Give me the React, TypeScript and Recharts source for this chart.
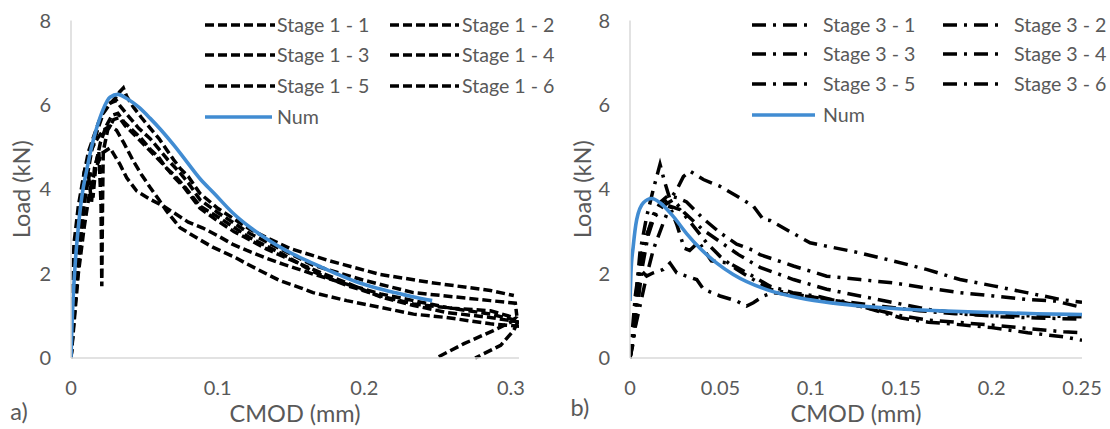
import React from 'react';
import { LineChart, Line, XAxis, YAxis, Legend } from 'recharts';

type Pt = [number, number];

const stage1Names = ['Stage 1 - 1', 'Stage 1 - 2', 'Stage 1 - 3', 'Stage 1 - 4', 'Stage 1 - 5', 'Stage 1 - 6'];
const stage3Names = ['Stage 3 - 1', 'Stage 3 - 2', 'Stage 3 - 3', 'Stage 3 - 4', 'Stage 3 - 5', 'Stage 3 - 6'];
const numName = 'Num';
const xTitle = 'CMOD (mm)';
const yTitle = 'Load (kN)';

const xTicksA = [0, 0.1, 0.2, 0.3];
const xTicksB = [0, 0.05, 0.1, 0.15, 0.2, 0.25];
const yTicks = [0, 2, 4, 6, 8];

// ---- panel a) Stage 1 ----
const stage1_1: Pt[] = [[0,0],[0.002,0.9],[0.005,2.2],[0.008,3.4],[0.011,4.3],[0.014,4.9],[0.018,5.4],[0.022,5.8],[0.026,6.0],[0.03,6.15],[0.033,6.3],[0.0357,6.4],[0.038,6.2],[0.0425,5.95],[0.048,5.7],[0.054,5.45],[0.06,5.2],[0.065,4.95],[0.07,4.7],[0.0743,4.5],[0.08,4.3],[0.088,3.9],[0.1,3.55],[0.111,3.3],[0.122,3.05],[0.1335,2.85],[0.149,2.6],[0.1767,2.3],[0.211,1.98],[0.245,1.79],[0.286,1.6],[0.302,1.48]];
const stage1_2: Pt[] = [[0,0],[0.001,1.2],[0.003,2.5],[0.006,3.6],[0.009,4.4],[0.012,4.9],[0.015,5.2],[0.019,5.6],[0.023,5.9],[0.027,6.05],[0.031,6.1],[0.034,5.95],[0.04,5.7],[0.046,5.45],[0.054,5.2],[0.06,4.95],[0.066,4.7],[0.07,4.55],[0.074,4.4],[0.08,4.15],[0.088,3.75],[0.1,3.45],[0.111,3.2],[0.122,2.95],[0.1335,2.75],[0.145,2.55],[0.165,2.2],[0.199,1.85],[0.2335,1.55],[0.286,1.36],[0.303,1.3],[0.304,1.0]];
const stage1_3: Pt[] = [[0,0],[0.002,1.0],[0.004,2.0],[0.007,3.0],[0.01,3.9],[0.013,4.4],[0.015,3.8],[0.017,4.6],[0.02,5.1],[0.024,5.5],[0.028,5.75],[0.032,5.8],[0.036,5.6],[0.042,5.4],[0.048,5.2],[0.054,4.95],[0.06,4.75],[0.065,4.5],[0.07,4.35],[0.0766,4.1],[0.088,3.6],[0.1,3.35],[0.111,3.1],[0.122,2.85],[0.1335,2.65],[0.145,2.45],[0.165,2.05],[0.188,1.72],[0.21,1.48],[0.2335,1.28],[0.26,1.18],[0.286,1.12],[0.303,0.95],[0.3,0.85],[0.288,0.65],[0.268,0.34],[0.249,0]];
const stage1_4: Pt[] = [[0,0],[0.002,0.8],[0.005,2.0],[0.009,3.1],[0.013,4.0],[0.017,4.5],[0.021,4.85],[0.0266,4.98],[0.0334,4.59],[0.038,4.27],[0.0448,3.96],[0.054,3.76],[0.063,3.6],[0.072,3.4],[0.08,3.22],[0.09,3.08],[0.1,2.9],[0.11,2.7],[0.12,2.55],[0.1335,2.36],[0.145,2.22],[0.165,1.99],[0.188,1.75],[0.211,1.52],[0.2335,1.36],[0.256,1.2],[0.286,1.04],[0.305,0.88],[0.302,0.66],[0.293,0.3],[0.2756,0]];
const stage1_5: Pt[] = [[0,0],[0.001,0.5],[0.003,1.6],[0.006,2.9],[0.009,3.8],[0.012,4.3],[0.014,3.7],[0.016,4.5],[0.019,4.9],[0.0205,3.6],[0.021,1.7],[0.0215,3.6],[0.022,4.9],[0.025,5.4],[0.029,5.65],[0.033,5.7],[0.037,5.5],[0.043,5.3],[0.05,5.05],[0.057,4.8],[0.064,4.55],[0.07,4.3],[0.077,4.05],[0.088,3.55],[0.1,3.25],[0.111,3.0],[0.122,2.8],[0.1335,2.58],[0.145,2.4],[0.165,2.1],[0.188,1.78],[0.211,1.45],[0.233,1.25],[0.256,1.08],[0.286,0.96],[0.306,0.85]];
const stage1_6: Pt[] = [[0,0],[0.001,1.5],[0.002,2.7],[0.005,3.6],[0.009,4.4],[0.013,4.9],[0.018,5.2],[0.022,5.4],[0.0266,5.5],[0.031,5.4],[0.036,5.1],[0.0425,4.67],[0.048,4.35],[0.054,4.04],[0.06,3.75],[0.065,3.49],[0.0743,3.09],[0.088,2.8],[0.097,2.62],[0.111,2.4],[0.12,2.23],[0.1335,1.99],[0.1426,1.83],[0.156,1.67],[0.165,1.55],[0.188,1.36],[0.211,1.2],[0.2335,1.04],[0.256,0.96],[0.286,0.81],[0.306,0.75]];
const numA: Pt[] = [[0,0],[0.0005,0.6],[0.0016,1.5],[0.003,2.3],[0.005,3.1],[0.0075,3.85],[0.0107,4.45],[0.014,5.0],[0.0175,5.45],[0.022,5.9],[0.0266,6.18],[0.032,6.25],[0.038,6.15],[0.046,5.95],[0.054,5.68],[0.062,5.38],[0.07,5.05],[0.079,4.65],[0.088,4.25],[0.0977,3.9],[0.11,3.45],[0.122,3.1],[0.1335,2.82],[0.1465,2.55],[0.16,2.32],[0.171,2.15],[0.183,1.97],[0.195,1.8],[0.207,1.67],[0.2196,1.56],[0.233,1.45],[0.2463,1.36]];

// ---- panel b) Stage 3 ----
const stage3_1: Pt[] = [[0,0],[0.001,0.3],[0.003,1.3],[0.0055,2.5],[0.0092,3.35],[0.0129,4.0],[0.0166,4.59],[0.019,4.2],[0.0221,3.76],[0.026,4.0],[0.0295,4.3],[0.0332,4.43],[0.0406,4.23],[0.0498,4.07],[0.059,3.84],[0.0682,3.6],[0.0738,3.28],[0.0775,3.26],[0.0996,2.73],[0.1272,2.49],[0.1456,2.3],[0.164,2.1],[0.1825,1.86],[0.2009,1.71],[0.2194,1.55],[0.2378,1.39],[0.25,1.32]];
const stage3_2: Pt[] = [[0,0],[0.002,0.6],[0.004,1.6],[0.007,2.5],[0.01,3.0],[0.013,3.4],[0.017,3.7],[0.021,3.85],[0.026,3.8],[0.0313,3.7],[0.0406,3.3],[0.0498,2.97],[0.059,2.7],[0.0682,2.55],[0.0719,2.45],[0.0904,2.18],[0.1088,1.94],[0.1272,1.86],[0.1456,1.78],[0.164,1.66],[0.1825,1.55],[0.2009,1.47],[0.2194,1.39],[0.235,1.35],[0.25,1.2]];
const stage3_3: Pt[] = [[0,0],[0.001,0.5],[0.003,1.5],[0.006,2.4],[0.009,2.9],[0.013,3.3],[0.018,3.6],[0.024,3.75],[0.03,3.45],[0.04,3.05],[0.05,2.75],[0.06,2.45],[0.0719,2.15],[0.0904,1.86],[0.1088,1.63],[0.1272,1.47],[0.145,1.32],[0.165,1.15],[0.185,1.05],[0.205,0.98],[0.225,0.95],[0.25,0.92]];
const stage3_4: Pt[] = [[0,0],[0.002,0.4],[0.004,1.2],[0.007,2.2],[0.01,2.9],[0.013,3.3],[0.016,3.6],[0.019,3.75],[0.022,3.6],[0.026,3.15],[0.03,2.6],[0.033,2.55],[0.038,2.75],[0.045,2.3],[0.055,2.25],[0.068,1.94],[0.0775,1.7],[0.09,1.55],[0.105,1.45],[0.12,1.3],[0.135,1.15],[0.15,1.0],[0.165,0.9],[0.18,0.85],[0.2,0.78],[0.22,0.7],[0.24,0.62],[0.25,0.6]];
const stage3_5: Pt[] = [[0,0],[0.0009,0.21],[0.0028,1.0],[0.0046,1.47],[0.0055,2.1],[0.0092,1.94],[0.0129,2.02],[0.0184,2.1],[0.0221,2.25],[0.0258,2.02],[0.0313,1.94],[0.0369,1.86],[0.0406,1.63],[0.0498,1.47],[0.059,1.35],[0.0645,1.23],[0.0682,1.31],[0.0738,1.47],[0.0793,1.55],[0.09,1.5],[0.1,1.45],[0.115,1.35],[0.13,1.2],[0.15,0.95],[0.165,0.85],[0.18,0.8],[0.2,0.72],[0.22,0.6],[0.24,0.5],[0.25,0.42]];
const stage3_6: Pt[] = [[0,0],[0.0018,0.52],[0.0055,1.23],[0.0092,1.95],[0.0129,2.57],[0.0184,3.2],[0.0221,3.6],[0.0276,3.52],[0.035,3.13],[0.0424,2.73],[0.0498,2.41],[0.059,2.1],[0.0682,1.86],[0.0775,1.63],[0.09,1.52],[0.1,1.45],[0.12,1.33],[0.14,1.22],[0.16,1.12],[0.18,1.05],[0.2,1.0],[0.22,1.0],[0.25,0.98]];
const numB: Pt[] = [[0,1.35],[0.0005,2.0],[0.0018,2.65],[0.0037,3.28],[0.0074,3.68],[0.012,3.78],[0.0166,3.68],[0.024,3.35],[0.0313,2.95],[0.0387,2.6],[0.048,2.25],[0.0571,1.98],[0.0756,1.62],[0.094,1.42],[0.1125,1.3],[0.131,1.22],[0.15,1.16],[0.175,1.11],[0.2,1.08],[0.225,1.05],[0.25,1.03]];

const stage1Series = [stage1_1, stage1_2, stage1_3, stage1_4, stage1_5, stage1_6];
const stage3Series = [stage3_1, stage3_2, stage3_3, stage3_4, stage3_5, stage3_6];

const toRows = (pts: Pt[]) => pts.map(([x, y]) => ({ x, y }));

const FONT = 'Lato, "Open Sans", sans-serif';
const TEXT = '#595959';
const AXIS = '#d9d9d9';
const BLUE = '#418CD2';
const DASH_A = '9 4';
const DASH_B = '14 7 3 7';
const LEGEND_FS = 19.6;
const TITLE_FS = 23.5;

type LegendLayout = {
  rows: number[];
  col1Line: [number, number];
  col1Text: number;
  col2Line: [number, number];
  col2Text: number;
  numLine: [number, number];
};

function LegendBox({ names, dash, lay, width }: { names: string[]; dash: string; lay: LegendLayout; width: number }) {
  const items = names.map((n, i) => {
    const row = lay.rows[Math.floor(i / 2)];
    const c = i % 2 === 0;
    const ln = c ? lay.col1Line : lay.col2Line;
    const tx = c ? lay.col1Text : lay.col2Text;
    return (
      <g key={n}>
        <line x1={ln[0]} x2={ln[1]} y1={row} y2={row} stroke="#000" strokeWidth={3.6} strokeDasharray={dash} />
        <text x={tx} y={row} dy="0.36em" fill={TEXT} fontSize={LEGEND_FS} fontFamily={FONT}>{n}</text>
      </g>
    );
  });
  const nr = lay.rows[3];
  return (
    <svg width={width} height={130} style={{ display: 'block' }}>
      {items}
      <line x1={lay.numLine[0]} x2={lay.numLine[1]} y1={nr} y2={nr} stroke={BLUE} strokeWidth={3.6} />
      <text x={lay.col1Text} y={nr} dy="0.36em" fill={TEXT} fontSize={LEGEND_FS} fontFamily={FONT}>{numName}</text>
    </svg>
  );
}

function Panel(props: {
  left: number; width: number; axisW: number; marginRight: number; xMax: number; xTicks: number[];
  series: Pt[][]; names: string[]; dash: string; num: Pt[]; lay: LegendLayout; yLabelOffset: number;
}) {
  const { left, width, axisW, marginRight, xMax, xTicks, series, names, dash, num, lay, yLabelOffset } = props;
  return (
    <div style={{ position: 'absolute', left, top: 0 }}>
      <LineChart width={width} height={429} margin={{ top: 20.5, right: marginRight, left: 0, bottom: 0 }} style={{ fontFamily: FONT }}>
        <XAxis
          dataKey="x" type="number" domain={[0, xMax]} ticks={xTicks} allowDataOverflow height={71}
          tickSize={0} tickMargin={23} axisLine={{ stroke: AXIS, strokeWidth: 1.5 }}
          tick={{ fill: TEXT, fontSize: 20, fontFamily: FONT }}
          label={{ value: xTitle, position: 'insideBottom', offset: 7, fill: TEXT, fontSize: TITLE_FS, fontFamily: FONT }}
        />
        <YAxis
          type="number" domain={[0, 8]} ticks={yTicks} width={axisW} tickSize={0} tickMargin={20}
          axisLine={{ stroke: AXIS, strokeWidth: 1.5 }} tick={{ fill: TEXT, fontSize: 20, fontFamily: FONT }}
          label={{ value: yTitle, angle: -90, position: 'insideLeft', offset: yLabelOffset, fill: TEXT, fontSize: TITLE_FS, fontFamily: FONT, style: { textAnchor: 'middle' } }}
        />
        {series.map((s, i) => (
          <Line key={names[i]} name={names[i]} data={toRows(s)} dataKey="y" type="linear" dot={false}
            stroke="#000" strokeWidth={3.5} strokeDasharray={dash} isAnimationActive={false} />
        ))}
        <Line name={numName} data={toRows(num)} dataKey="y" type="monotone" dot={false}
          stroke={BLUE} strokeWidth={3.6} isAnimationActive={false} />
        <Legend layout="horizontal" verticalAlign="middle" align="center"
          wrapperStyle={{ left: 0, top: 0, width, height: 130 }}
          content={() => <LegendBox names={names} dash={dash} lay={lay} width={width} />} />
      </LineChart>
    </div>
  );
}

const layA: LegendLayout = { rows: [25, 55, 86, 117], col1Line: [205, 275], col1Text: 277, col2Line: [390, 459], col2Text: 462, numLine: [205, 272] };
const layB: LegendLayout = { rows: [25, 54, 84, 115], col1Line: [197, 253], col1Text: 268, col2Line: [388, 444], col2Text: 459, numLine: [197, 260] };

export default function App() {
  return (
    <div style={{ position: 'absolute', left: 0, top: 0, width: 1110, height: 429, background: '#fff', overflow: 'hidden' }}>
      <Panel left={0} width={560} axisW={71} marginRight={41} xMax={0.3055} xTicks={xTicksA}
        series={stage1Series} names={stage1Names} dash={DASH_A} num={numA} lay={layA} yLabelOffset={22} />
      <Panel left={555} width={555} axisW={75} marginRight={28} xMax={0.25} xTicks={xTicksB}
        series={stage3Series} names={stage3Names} dash={DASH_B} num={numB} lay={layB} yLabelOffset={28} />
      <svg width={1110} height={429} style={{ position: 'absolute', left: 0, top: 0, pointerEvents: 'none' }}>
        <text x={19} y={420} textAnchor="middle" fill={TEXT} fontSize={TITLE_FS} fontFamily={FONT}>a)</text>
        <text x={580} y={416} textAnchor="middle" fill={TEXT} fontSize={TITLE_FS} fontFamily={FONT}>b)</text>
      </svg>
    </div>
  );
}
